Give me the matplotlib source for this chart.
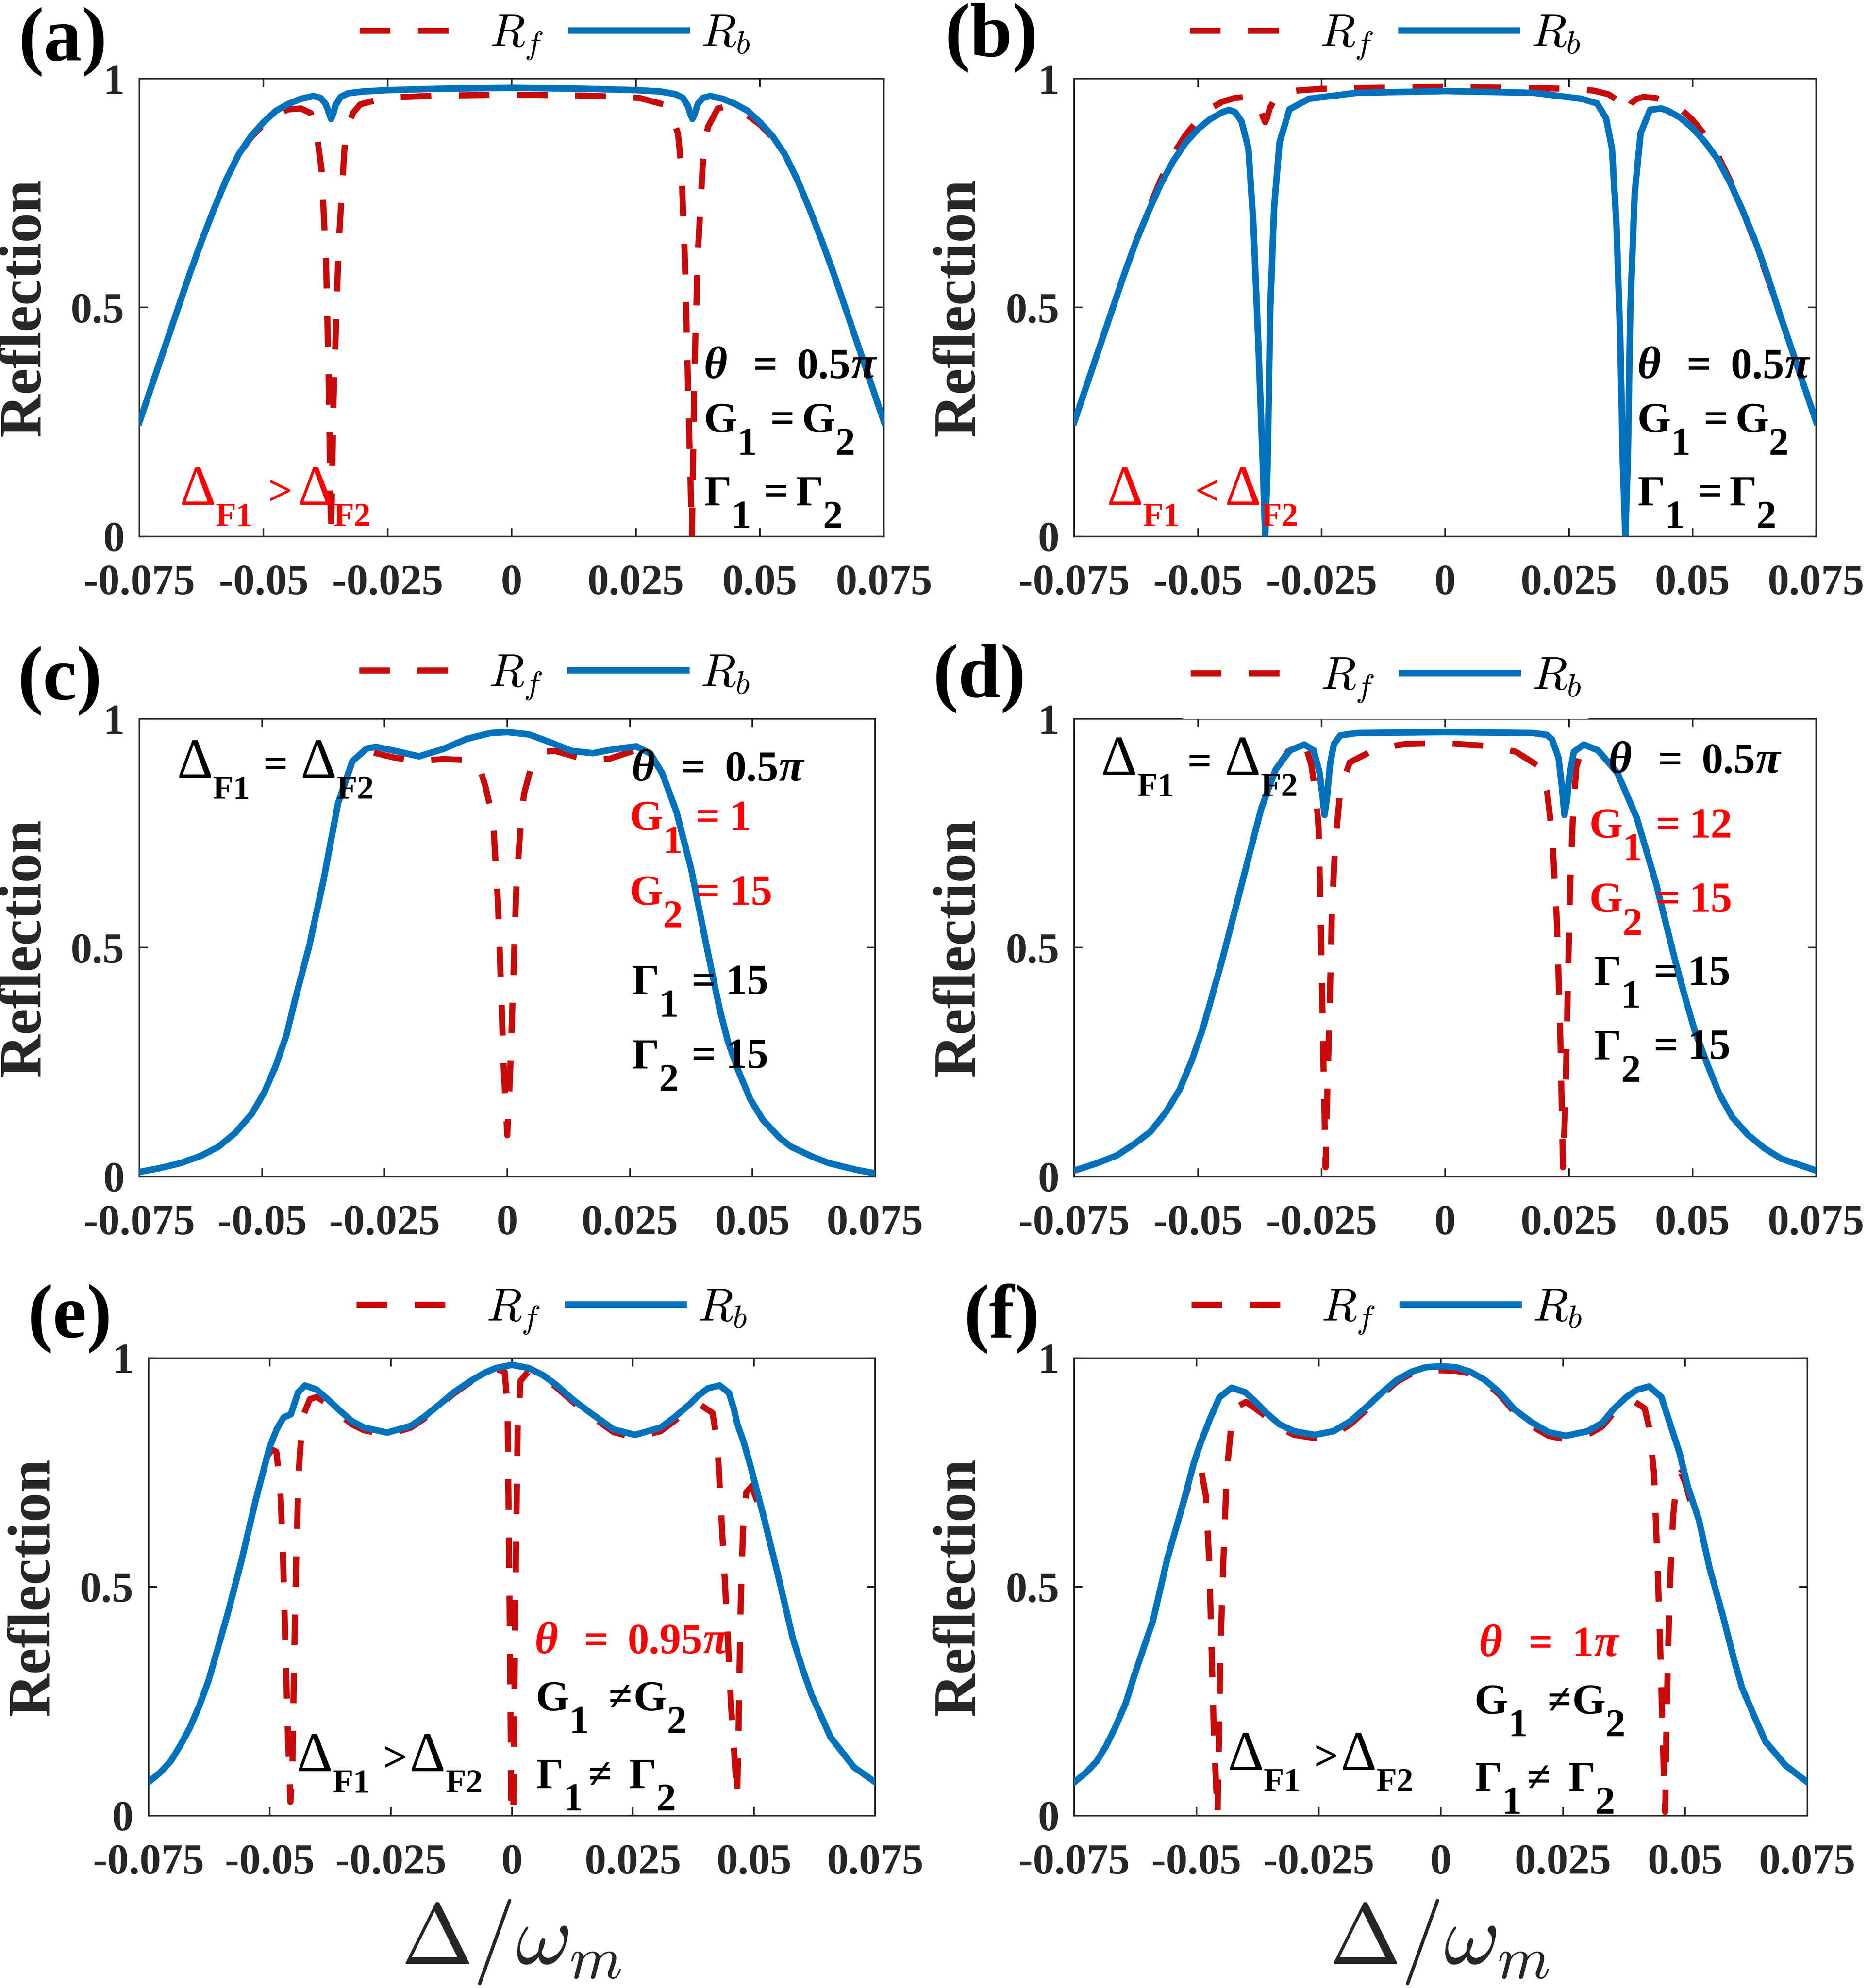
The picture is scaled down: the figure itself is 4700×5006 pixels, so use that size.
import matplotlib
matplotlib.use("Agg")
import matplotlib.pyplot as plt
from matplotlib.font_manager import FontProperties
from matplotlib.lines import Line2D
from matplotlib.transforms import offset_copy

# ---------------- data ----------------
A_XB = [-0.075,-0.0725,-0.070,-0.0675,-0.065,-0.0625,-0.060,-0.0575,-0.055,-0.0525,-0.050,-0.0475,-0.045,-0.0425,-0.040,-0.0385,-0.0375,-0.0368,-0.0364,-0.0360,-0.0355,-0.0345,-0.033,-0.030,-0.025,-0.015,0.0,0.015,0.025,0.030,0.033,0.0345,0.0355,0.0360,0.0364,0.0368,0.0375,0.0385,0.040,0.0425,0.045,0.0475,0.050,0.0525,0.055,0.0575,0.060,0.0625,0.065,0.0675,0.070,0.0725,0.075]
A_YB = [0.25,0.33,0.41,0.49,0.57,0.645,0.715,0.78,0.835,0.875,0.905,0.93,0.945,0.956,0.962,0.958,0.945,0.925,0.912,0.922,0.942,0.960,0.968,0.972,0.975,0.978,0.980,0.978,0.975,0.972,0.966,0.958,0.940,0.922,0.912,0.922,0.945,0.958,0.962,0.956,0.945,0.93,0.905,0.875,0.835,0.78,0.715,0.645,0.57,0.49,0.41,0.33,0.25]
A_XF = [-0.075,-0.0725,-0.070,-0.0675,-0.065,-0.0625,-0.060,-0.0575,-0.055,-0.0525,-0.050,-0.0475,-0.045,-0.0425,-0.0405,-0.0393,-0.0383,-0.0374,-0.0369,-0.0364,-0.0359,-0.0349,-0.0342,-0.0335,-0.032,-0.0305,-0.0257,-0.015,0.0,0.015,0.0257,0.0305,0.032,0.0335,0.0342,0.0349,0.0356,0.0363,0.0368,0.0375,0.0385,0.0395,0.0415,0.0434,0.045,0.0475,0.050,0.0525,0.055,0.0575,0.060,0.0625,0.065,0.0675,0.070,0.0725,0.075]
A_YF = [0.25,0.33,0.41,0.49,0.57,0.645,0.715,0.78,0.835,0.872,0.9,0.922,0.933,0.935,0.925,0.88,0.80,0.60,0.35,0.0,0.30,0.63,0.76,0.88,0.925,0.944,0.958,0.963,0.965,0.963,0.958,0.944,0.925,0.88,0.80,0.60,0.29,0.0,0.358,0.62,0.816,0.894,0.935,0.94,0.935,0.92,0.9,0.872,0.835,0.78,0.715,0.645,0.57,0.49,0.41,0.33,0.25]

B_XB = [-0.075,-0.0725,-0.070,-0.0675,-0.065,-0.0625,-0.060,-0.0575,-0.055,-0.0525,-0.050,-0.0475,-0.045,-0.0437,-0.0425,-0.0412,-0.0398,-0.0388,-0.0378,-0.0369,-0.0364,-0.0359,-0.0354,-0.0346,-0.0335,-0.0315,-0.0276,-0.018,0.0,0.018,0.0276,0.0307,0.0325,0.0337,0.0346,0.0354,0.0359,0.0364,0.0369,0.0374,0.0383,0.0395,0.0414,0.0437,0.045,0.0475,0.050,0.0525,0.055,0.0575,0.060,0.0625,0.065,0.0675,0.070,0.0725,0.075]
B_YB = [0.25,0.33,0.41,0.49,0.57,0.645,0.71,0.77,0.82,0.86,0.89,0.912,0.927,0.932,0.927,0.907,0.848,0.685,0.424,0.162,0.0,0.162,0.49,0.718,0.861,0.933,0.956,0.969,0.973,0.969,0.956,0.946,0.914,0.848,0.685,0.424,0.162,0.0,0.162,0.49,0.75,0.881,0.932,0.935,0.93,0.915,0.892,0.862,0.825,0.775,0.715,0.65,0.575,0.49,0.41,0.33,0.25]
B_XF = [-0.075,-0.0725,-0.070,-0.0675,-0.065,-0.0625,-0.060,-0.0575,-0.055,-0.0525,-0.050,-0.0475,-0.045,-0.0425,-0.040,-0.0385,-0.0375,-0.0368,-0.0364,-0.036,-0.0355,-0.0345,-0.033,-0.030,-0.025,-0.015,0.0,0.015,0.025,0.030,0.033,0.0345,0.0355,0.036,0.0364,0.0368,0.0375,0.0385,0.040,0.0425,0.045,0.0475,0.050,0.0525,0.055,0.0575,0.060,0.0625,0.065,0.0675,0.070,0.0725,0.075]
B_YF = [0.25,0.33,0.41,0.49,0.57,0.645,0.715,0.78,0.835,0.877,0.91,0.935,0.95,0.958,0.96,0.952,0.935,0.915,0.905,0.915,0.935,0.955,0.968,0.974,0.978,0.98,0.982,0.98,0.978,0.974,0.966,0.955,0.938,0.928,0.925,0.93,0.945,0.955,0.96,0.958,0.95,0.935,0.91,0.877,0.835,0.78,0.715,0.645,0.57,0.49,0.41,0.33,0.25]

C_XB = [-0.075,-0.071,-0.0667,-0.0625,-0.0589,-0.0555,-0.0521,-0.0495,-0.0472,-0.045,-0.0433,-0.0404,-0.0375,-0.0345,-0.0316,-0.0287,-0.0268,-0.0229,-0.018,-0.0131,-0.0083,-0.0034,0.0,0.0044,0.0092,0.0131,0.0175,0.0219,0.0263,0.0292,0.0316,0.0345,0.0375,0.0404,0.0433,0.045,0.0472,0.0495,0.0521,0.0555,0.0579,0.0625,0.0657,0.071,0.075]
C_YB = [0.01,0.018,0.029,0.045,0.065,0.095,0.137,0.185,0.242,0.31,0.385,0.503,0.646,0.816,0.907,0.935,0.939,0.93,0.918,0.934,0.956,0.969,0.971,0.966,0.947,0.93,0.925,0.934,0.94,0.924,0.881,0.797,0.672,0.516,0.366,0.295,0.229,0.17,0.124,0.085,0.065,0.042,0.029,0.015,0.007]
C_XF = [-0.075,-0.071,-0.0667,-0.0625,-0.0589,-0.0555,-0.0521,-0.0495,-0.0472,-0.045,-0.0433,-0.0404,-0.0375,-0.0345,-0.0316,-0.0287,-0.0268,-0.0229,-0.018,-0.0131,-0.0083,-0.0058,-0.0044,-0.0029,-0.0019,-0.0013,-0.0007,0.0,0.0006,0.0012,0.0018,0.0026,0.0034,0.0049,0.0073,0.0097,0.013,0.016,0.0209,0.0263,0.0292,0.0316,0.0345,0.0375,0.0404,0.0433,0.045,0.0472,0.0495,0.0521,0.0555,0.0579,0.0625,0.0657,0.071,0.075]
C_YF = [0.01,0.018,0.029,0.045,0.065,0.095,0.137,0.185,0.242,0.31,0.385,0.503,0.646,0.816,0.905,0.93,0.925,0.915,0.908,0.912,0.91,0.90,0.85,0.78,0.60,0.42,0.23,0.09,0.23,0.42,0.62,0.75,0.835,0.896,0.928,0.93,0.92,0.91,0.913,0.932,0.922,0.881,0.797,0.672,0.516,0.366,0.295,0.229,0.17,0.124,0.085,0.065,0.042,0.029,0.015,0.007]

D_XB = [-0.075,-0.0707,-0.0664,-0.063,-0.0596,-0.0565,-0.0537,-0.0512,-0.0489,-0.047,-0.045,-0.0411,-0.0372,-0.0343,-0.0314,-0.0285,-0.0266,-0.0254,-0.0248,-0.0244,-0.0239,-0.0233,-0.0225,-0.0212,-0.0178,0.0,0.0178,0.0205,0.0216,0.0229,0.0236,0.0241,0.0246,0.025,0.026,0.028,0.0309,0.0348,0.0387,0.0426,0.0465,0.0484,0.0504,0.053,0.0553,0.058,0.0611,0.0645,0.0679,0.075]
D_YB = [0.013,0.028,0.046,0.07,0.098,0.14,0.19,0.255,0.327,0.4,0.477,0.641,0.804,0.889,0.931,0.944,0.931,0.882,0.83,0.79,0.83,0.90,0.945,0.964,0.969,0.971,0.969,0.965,0.955,0.915,0.85,0.79,0.82,0.869,0.928,0.944,0.931,0.882,0.784,0.641,0.471,0.395,0.32,0.245,0.183,0.13,0.092,0.062,0.039,0.013]
D_XF = [-0.075,-0.0707,-0.0664,-0.063,-0.0596,-0.0565,-0.0537,-0.0512,-0.0489,-0.047,-0.045,-0.0411,-0.0372,-0.0343,-0.0314,-0.0285,-0.0271,-0.0261,-0.0256,-0.0251,-0.0247,-0.0242,-0.0238,-0.0234,-0.0229,-0.0222,-0.0212,-0.0193,-0.0139,-0.0081,0.0,0.0094,0.0143,0.0187,0.0206,0.0216,0.0226,0.0233,0.0238,0.0243,0.0248,0.0252,0.0258,0.0265,0.028,0.0309,0.0348,0.0387,0.0426,0.0465,0.0484,0.0504,0.053,0.0553,0.058,0.0611,0.0645,0.0679,0.075]
D_YF = [0.013,0.028,0.046,0.07,0.098,0.14,0.19,0.255,0.327,0.4,0.477,0.641,0.804,0.889,0.935,0.95,0.90,0.83,0.76,0.52,0.29,0.02,0.2,0.357,0.585,0.735,0.846,0.905,0.935,0.945,0.947,0.94,0.928,0.898,0.84,0.748,0.552,0.29,0.02,0.163,0.424,0.62,0.784,0.895,0.947,0.931,0.882,0.784,0.641,0.471,0.395,0.32,0.245,0.183,0.13,0.092,0.062,0.039,0.013]

E_XB = [-0.075,-0.0725,-0.0704,-0.0685,-0.0665,-0.0645,-0.0626,-0.0607,-0.0587,-0.0558,-0.0529,-0.050,-0.0485,-0.0471,-0.0456,-0.0449,-0.0441,-0.0427,-0.0403,-0.038,-0.0354,-0.033,-0.0305,-0.0257,-0.0208,-0.018,-0.015,-0.012,-0.0082,-0.0055,-0.0033,0.0,0.0035,0.0065,0.0093,0.0125,0.0161,0.021,0.0254,0.0307,0.0335,0.0366,0.0385,0.0405,0.0429,0.0448,0.0458,0.0465,0.0478,0.0492,0.0521,0.0551,0.058,0.06,0.0619,0.0658,0.0706,0.075]
E_YB = [0.073,0.095,0.119,0.152,0.191,0.24,0.295,0.365,0.439,0.557,0.688,0.805,0.845,0.87,0.877,0.90,0.925,0.94,0.931,0.91,0.884,0.862,0.848,0.837,0.852,0.872,0.898,0.925,0.952,0.968,0.978,0.985,0.978,0.962,0.94,0.91,0.881,0.844,0.832,0.848,0.87,0.898,0.918,0.934,0.94,0.924,0.89,0.857,0.818,0.766,0.648,0.518,0.387,0.32,0.263,0.171,0.106,0.073]
E_XF = [-0.075,-0.0725,-0.0704,-0.0685,-0.0665,-0.0645,-0.0626,-0.0607,-0.0587,-0.0558,-0.0529,-0.0505,-0.0495,-0.0486,-0.0478,-0.0472,-0.0467,-0.0462,-0.0457,-0.0453,-0.0449,-0.0445,-0.044,-0.0432,-0.0417,-0.0403,-0.038,-0.0354,-0.033,-0.0305,-0.0257,-0.0208,-0.018,-0.015,-0.012,-0.0082,-0.0055,-0.003,-0.0015,-0.0009,-0.0005,-0.0001,0.0003,0.0007,0.0012,0.0018,0.0035,0.0065,0.0093,0.0125,0.0161,0.021,0.0254,0.0307,0.0335,0.0366,0.039,0.0414,0.0424,0.0434,0.0444,0.0453,0.0465,0.0468,0.0472,0.0477,0.0484,0.0495,0.0502,0.0512,0.0521,0.0551,0.058,0.06,0.0619,0.0658,0.0706,0.075]
E_YF = [0.073,0.095,0.119,0.152,0.191,0.24,0.295,0.365,0.439,0.557,0.688,0.785,0.80,0.795,0.72,0.56,0.36,0.17,0.03,0.10,0.36,0.56,0.75,0.87,0.91,0.915,0.9,0.875,0.855,0.842,0.832,0.848,0.868,0.895,0.922,0.95,0.966,0.975,0.97,0.9,0.5,0.0,0.0,0.45,0.85,0.95,0.972,0.958,0.935,0.905,0.875,0.838,0.826,0.84,0.862,0.888,0.897,0.88,0.818,0.622,0.425,0.23,0.04,0.2,0.45,0.622,0.707,0.72,0.70,0.67,0.648,0.518,0.387,0.32,0.263,0.171,0.106,0.073]

F_XB = [-0.075,-0.0725,-0.0704,-0.0685,-0.0667,-0.0645,-0.0626,-0.0607,-0.0589,-0.056,-0.053,-0.0505,-0.0491,-0.0472,-0.0453,-0.0428,-0.040,-0.038,-0.0355,-0.033,-0.030,-0.0258,-0.022,-0.0185,-0.0151,-0.012,-0.009,-0.006,-0.003,0.0,0.003,0.006,0.009,0.012,0.015,0.0185,0.022,0.0256,0.030,0.033,0.0353,0.038,0.040,0.0426,0.0451,0.0465,0.0489,0.0505,0.0528,0.055,0.0577,0.06,0.0616,0.064,0.0664,0.0705,0.075]
F_YB = [0.073,0.095,0.119,0.152,0.191,0.245,0.31,0.37,0.426,0.56,0.672,0.772,0.816,0.868,0.914,0.935,0.925,0.905,0.878,0.855,0.84,0.832,0.84,0.862,0.894,0.925,0.952,0.97,0.98,0.982,0.98,0.97,0.952,0.925,0.888,0.86,0.838,0.83,0.84,0.858,0.888,0.915,0.93,0.938,0.915,0.869,0.79,0.72,0.646,0.54,0.437,0.34,0.28,0.22,0.162,0.11,0.073]
F_XF = [-0.075,-0.0725,-0.0704,-0.0685,-0.0667,-0.0645,-0.0626,-0.0607,-0.0589,-0.056,-0.053,-0.0512,-0.0498,-0.0491,-0.0481,-0.0474,-0.0469,-0.0464,-0.0457,-0.0454,-0.0451,-0.0445,-0.0438,-0.0428,-0.0414,-0.0399,-0.038,-0.0355,-0.033,-0.030,-0.0258,-0.022,-0.0185,-0.0151,-0.012,-0.009,-0.006,-0.003,0.0,0.003,0.006,0.009,0.012,0.015,0.0185,0.022,0.0256,0.030,0.033,0.0353,0.0378,0.0397,0.0417,0.0426,0.0436,0.0443,0.0449,0.0454,0.0459,0.0462,0.0468,0.0475,0.0483,0.0491,0.0499,0.0518,0.0528,0.055,0.0577,0.06,0.0616,0.064,0.0664,0.0705,0.075]
F_YF = [0.073,0.095,0.119,0.152,0.191,0.245,0.31,0.37,0.426,0.56,0.672,0.735,0.755,0.759,0.70,0.557,0.361,0.165,0.0,0.17,0.361,0.557,0.75,0.862,0.895,0.904,0.89,0.87,0.848,0.832,0.825,0.832,0.855,0.888,0.92,0.948,0.966,0.972,0.973,0.972,0.966,0.948,0.92,0.882,0.852,0.83,0.822,0.832,0.85,0.88,0.9,0.904,0.89,0.849,0.75,0.557,0.361,0.165,0.008,0.23,0.49,0.652,0.738,0.75,0.73,0.66,0.646,0.54,0.437,0.34,0.28,0.22,0.162,0.11,0.073]

X_TICKS = [-0.075, -0.05, -0.025, 0, 0.025, 0.05, 0.075]
X_TICKLABELS = ["-0.075", "-0.05", "-0.025", "0", "0.025", "0.05", "0.075"]
Y_TICKS = [0, 0.5, 1]
Y_TICKLABELS = ["0", "0.5", "1"]
LEGEND_LABELS = [r"$R_f$", r"$R_b$"]
PANEL_LABELS = ["(a)", "(b)", "(c)", "(d)", "(e)", "(f)"]
Y_LABEL = "Reflection"
X_LABEL = r"$\Delta/\omega_m$"

# ---------------- style ----------------
plt.rcParams["font.family"] = ["Liberation Serif", "DejaVu Serif"]
plt.rcParams["font.weight"] = "bold"

BLUE = "#0072BD"
DRED = "#C80A0A"
RED = "#FF0000"
GRAY = "#262626"
LW_B = 3.9
LW_F = 3.7
DASH = (0, (5.0, 4.5))
FS = 26
TICK_FS = 26
DPI = 300

fig = plt.figure(figsize=(4700 / DPI, 5006 / DPI), dpi=DPI)
renderer = fig.canvas.get_renderer()


def rich(ax, x, y, pieces, color):
    """pieces: (text, kind, gap_before_em). kinds: n normal, i italic,
    s subscript, D large delta, ds delta subscript."""
    em = FS * DPI / 72.0
    off = 0.0
    for s, kind, gap in pieces:
        off += gap * em
        size, dy, style, weight = FS, 0.0, "normal", "bold"
        if kind == "i":
            style = "italic"
            size = FS * 1.05
        elif kind == "s":
            size, dy = FS * 0.92, -0.53 * em
        elif kind == "D":
            size, weight = FS * 1.3, "normal"
        elif kind == "ds":
            size, dy = FS * 0.78, -0.5 * em
        tr = offset_copy(ax.transAxes, fig=fig, x=off, y=dy, units="dots")
        t = ax.text(x, y, s, transform=tr, fontsize=size, color=color,
                    fontstyle=style, fontweight=weight, ha="left",
                    va="baseline", zorder=6)
        off += t.get_window_extent(renderer).width


def theta(val):
    return [("θ", "i", 0), ("=", "n", 0.6), (val, "n", 0.45), ("π", "i", 0.0)]


def eq(sym, a, op, b, g1=0.3, g2=0.17):
    return [(sym, "n", 0), (a, "s", 0.0), (op, "n", g1), (sym, "n", g2), (b, "s", 0.0)]


def val(sym, a, v):
    return [(sym, "n", 0), (a, "s", 0.0), ("=", "n", 0.3), (v, "n", 0.22)]


def dlt(op, g1=0.35, g2=0.12):
    return [("Δ", "D", 0), ("F1", "ds", 0), (op, "n", g1), ("Δ", "D", g2), ("F2", "ds", 0)]


rects = [
    [0.0747, 0.7302, 0.3988, 0.2302],
    [0.5754, 0.7302, 0.3974, 0.2302],
    [0.0747, 0.4082, 0.3940, 0.2302],
    [0.5754, 0.4082, 0.3974, 0.2302],
    [0.0795, 0.0867, 0.3893, 0.2302],
    [0.5754, 0.0867, 0.3927, 0.2302],
]
data = [
    (A_XF, A_YF, A_XB, A_YB),
    (B_XF, B_YF, B_XB, B_YB),
    (C_XF, C_YF, C_XB, C_YB),
    (D_XF, D_YF, D_XB, D_YB),
    (E_XF, E_YF, E_XB, E_YB),
    (F_XF, F_YF, F_XB, F_YB),
]
texts = [
    [(0.758, 0.346, theta("0.5"), "black"),
     (0.758, 0.228, eq("G", "1", "=", "2"), "black"),
     (0.758, 0.069, eq("Γ", "1", "=", "2"), "black"),
     (0.054, 0.069, dlt(">"), RED)],
    [(0.759, 0.346, theta("0.5"), "black"),
     (0.759, 0.228, eq("G", "1", "=", "2"), "black"),
     (0.759, 0.069, eq("Γ", "1", "=", "2"), "black"),
     (0.044, 0.069, dlt("<"), RED)],
    [(0.051, 0.872, dlt("=", 0.3, 0.3), "black"),
     (0.669, 0.865, theta("0.5"), "black"),
     (0.666, 0.757, val("G", "1", "1"), RED),
     (0.666, 0.594, val("G", "2", "15"), RED),
     (0.669, 0.399, val("Γ", "1", "15"), "black"),
     (0.669, 0.237, val("Γ", "2", "15"), "black")],
    [(0.036, 0.878, dlt("=", 0.3, 0.3), "black"),
     (0.720, 0.882, theta("0.5"), "black"),
     (0.694, 0.741, val("G", "1", "12"), RED),
     (0.694, 0.578, val("G", "2", "15"), RED),
     (0.700, 0.419, val("Γ", "1", "15"), "black"),
     (0.700, 0.257, val("Γ", "2", "15"), "black")],
    [(0.531, 0.355, theta("0.95"), RED),
     (0.533, 0.230, eq("G", "1", "≠", "2", 0.45, 0.03), "black"),
     (0.533, 0.061, eq("Γ", "1", "≠", "2", 0.12, 0.4), "black"),
     (0.204, 0.0975, dlt(">", 0.3, 0.05), "black")],
    [(0.552, 0.349, theta("1"), RED),
     (0.546, 0.223, eq("G", "1", "≠", "2", 0.45, 0.03), "black"),
     (0.546, 0.054, eq("Γ", "1", "≠", "2", 0.12, 0.4), "black"),
     (0.209, 0.100, dlt(">", 0.3, 0.05), "black")],
]
legend_pos = [(0.558, 1.089), (0.419, 1.089), (0.564, 1.089),
              (0.420, 1.083), (0.555, 1.100), (0.426, 1.100)]
legend_frame = [False, False, False, True, False, False]
label_pos = [(0.0337, 0.979), (0.531, 0.981), (0.032, 0.6575),
             (0.5245, 0.6588), (0.0374, 0.3367), (0.5367, 0.3367)]
ylabel_pos = [(0.0136, 0.8453), (0.514, 0.8453), (0.0136, 0.5233),
              (0.514, 0.5233), (0.0183, 0.2018), (0.514, 0.2018)]
xlabel_pos = [(0.2738, 0.023), (0.771, 0.023)]

leg_prop = FontProperties(family="Liberation Serif", size=28, math_fontfamily="cm")

for i in range(6):
    ax = fig.add_axes(rects[i])
    xf, yf, xb, yb = data[i]
    ax.plot(xf, yf, color=DRED, lw=LW_F, linestyle=DASH, dash_capstyle="butt", zorder=3)
    ax.plot(xb, yb, color=BLUE, lw=LW_B, solid_joinstyle="round", zorder=4)
    ax.set_xlim(-0.075, 0.075)
    ax.set_ylim(0, 1)
    ax.set_xticks(X_TICKS)
    ax.set_xticklabels(X_TICKLABELS)
    ax.set_yticks(Y_TICKS)
    ax.set_yticklabels(Y_TICKLABELS)
    ax.tick_params(axis="both", direction="in", top=True, right=True, length=5,
                   width=1.0, colors=GRAY, labelsize=TICK_FS)
    ax.tick_params(axis="x", pad=17)
    ax.tick_params(axis="y", pad=9)
    for lab in ax.get_xticklabels() + ax.get_yticklabels():
        lab.set_fontweight("bold")
    for sp in ax.spines.values():
        sp.set_color(GRAY)
        sp.set_linewidth(1.0)

    for (tx, ty, pieces, c) in texts[i]:
        rich(ax, tx, ty, pieces, c)

    h1 = Line2D([], [], color=DRED, lw=LW_F, linestyle=DASH, dash_capstyle="butt")
    h2 = Line2D([], [], color=BLUE, lw=LW_B)
    leg = ax.legend([h1, h2], LEGEND_LABELS, ncol=2, loc="center",
                    bbox_to_anchor=legend_pos[i], bbox_transform=ax.transAxes,
                    prop=leg_prop, frameon=legend_frame[i], handlelength=2.5,
                    handletextpad=0.3, columnspacing=0.6, borderpad=0.3,
                    borderaxespad=0)
    if legend_frame[i]:
        leg.get_frame().set_facecolor("white")
        leg.get_frame().set_edgecolor("none")
        leg.get_frame().set_alpha(1.0)
    leg.set_zorder(10)

    fig.text(label_pos[i][0], label_pos[i][1], PANEL_LABELS[i], fontsize=46,
             fontweight="bold", ha="center", va="center", color="black")
    fig.text(ylabel_pos[i][0], ylabel_pos[i][1], Y_LABEL, fontsize=36,
             fontweight="bold", rotation=90, ha="center", va="center", color=GRAY)

for (x, y) in xlabel_pos:
    fig.text(x, y, X_LABEL, fontsize=52, ha="center", va="center", color=GRAY,
             math_fontfamily="cm")

fig.savefig("out.png", dpi=DPI)
